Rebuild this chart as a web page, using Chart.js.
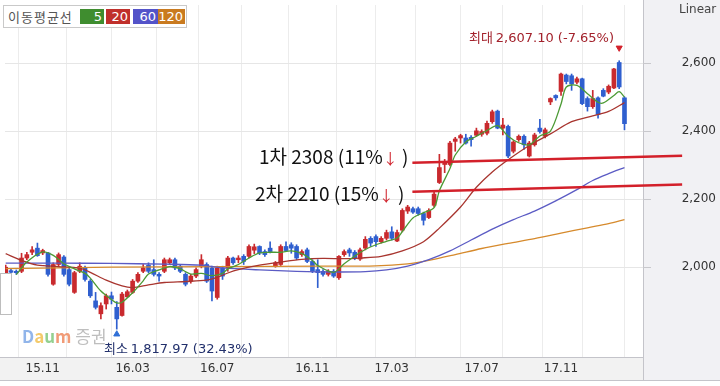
<!DOCTYPE html>
<html>
<head>
<meta charset="utf-8">
<script src="https://cdn.jsdelivr.net/npm/chart.js@4.4.1/dist/chart.umd.min.js"></script>
<style>
  html, body { margin: 0; padding: 0; background: #fff; overflow: hidden; }
  #wrap { position: relative; width: 720px; height: 386px; }
  canvas { position: absolute; left: 0; top: 0; }
  .txt { position: absolute; white-space: nowrap; font-family: "Noto Sans CJK KR", "DejaVu Sans", sans-serif; }
  .num { font-family: "DejaVu Sans", "Noto Sans CJK KR", sans-serif; }
  .arrow { color: #d0202a; font-size: 15px; }
  #maBox { position: absolute; left: 3px; top: 5px; width: 182px; height: 21px; border: 1px solid #c9c9c9; background: #fff; }
  .maKey { position: absolute; top: 3px; height: 15px; line-height: 15px; color: #fff; text-align: right; font: 13px "DejaVu Sans", sans-serif; padding-right: 2px; box-sizing: border-box; }
</style>
</head>
<body>
<div id="wrap">
  <canvas id="kospiChart" width="720" height="386"></canvas>

  <div id="maBox">
    <div class="txt" style="left:4px;top:1px;font-size:13px;color:#555;letter-spacing:1px;">이동평균선</div>
    <div class="maKey" style="left:76px;width:24px;background:#3f8d2f;">5</div>
    <div class="maKey" style="left:102px;width:24px;background:#c0302b;">20</div>
    <div class="maKey" style="left:129px;width:25px;background:#5353c9;">60</div>
    <div class="maKey" style="left:154px;width:27px;background:#c97a1f;">120</div>
  </div>

  <div class="txt num" style="left:679px;top:2px;font-size:12px;color:#444;">Linear</div>

  <div class="txt" style="left:469px;top:27px;font-size:13px;color:#a3222c;">최대 <span class="num">2,607.10 (-7.65%)</span></div>
  <div class="txt" style="left:104px;top:338px;font-size:13px;color:#22306c;">최소 <span class="num">1,817.97 (32.43%)</span></div>

  <div class="txt" style="left:259px;top:142px;font-size:19px;color:#111;">1차 2308 (11%<span class="arrow">↓</span> )</div>
  <div class="txt" style="left:255px;top:179px;font-size:19px;color:#111;">2차 2210 (15%<span class="arrow">↓</span> )</div>

  <div class="txt" style="left:22px;top:323px;font-size:17px;font-weight:bold;opacity:0.75;">
    <span style="color:#6d9de3;">D</span><span style="color:#f0b93a;">a</span><span style="color:#6fc06a;">u</span><span style="color:#ec7a4a;">m</span>
    <span style="color:#a8a8a8;font-weight:normal;">증권</span>
  </div>

  <div style="position:absolute;left:0;top:273px;width:10px;height:40px;border:1px solid #bdbdbd;background:#fff;"></div>
</div>

<script>
// weekly candles, index 0 = leftmost candle
const openArr = [
  1982, 1990, 1988, 1988, 2027, 2044, 2056, 2042, 2042, 1950,
  2008, 2030, 1993, 1926, 1988, 1998, 1959, 1901, 1863, 1892,
  1916, 1882, 1858, 1913, 1926, 1959, 1988, 2006, 1993, 1979,
  1988, 2013, 2022, 2003, 1979, 1959, 1974, 2003, 2008, 1998,
  1911, 1998, 1998, 2027, 2022, 2032, 2032, 2050, 2061, 2046,
  2056, 2003, 2008, 2061, 2066, 2061, 2037, 2051, 2017, 1993,
  1988, 1979, 1988, 1969, 2037, 2051, 2044, 2024, 2056, 2085,
  2090, 2075, 2085, 2104, 2077, 2109, 2165, 2172, 2172, 2158,
  2146, 2182, 2249, 2302, 2302, 2370, 2380, 2380, 2382, 2388,
  2391, 2394, 2428, 2459, 2409, 2414, 2341, 2375, 2385, 2327,
  2360, 2409, 2385, 2486, 2505, 2517, 2565, 2563, 2544, 2554,
  2496, 2472, 2498, 2520, 2515, 2527, 2602, 2498
];
const highArr = [
  2006, 1995, 1992, 2041, 2044, 2061, 2071, 2053, 2044, 2013,
  2042, 2034, 1998, 1988, 2013, 2003, 1964, 1926, 1895, 1921,
  1927, 1899, 1926, 1933, 1964, 1984, 2008, 2013, 2022, 1984,
  2027, 2027, 2027, 2008, 1984, 1979, 1998, 2037, 2013, 2003,
  2003, 2003, 2032, 2030, 2034, 2037, 2066, 2068, 2063, 2051,
  2075, 2017, 2066, 2075, 2072, 2066, 2051, 2056, 2022, 2022,
  1993, 1993, 1993, 2034, 2051, 2056, 2049, 2056, 2090, 2090,
  2095, 2090, 2109, 2119, 2109, 2172, 2182, 2177, 2177, 2162,
  2172, 2220, 2332, 2317, 2370, 2382, 2391, 2391, 2387, 2409,
  2404, 2430, 2462, 2462, 2438, 2418, 2372, 2389, 2389, 2370,
  2394, 2435, 2409, 2498, 2507, 2571, 2568, 2568, 2559, 2556,
  2501, 2520, 2501, 2525, 2536, 2585, 2607.1, 2501
];
const lowArr = [
  1978, 1980, 1979, 1984, 2022, 2037, 2032, 2037, 1974, 1947,
  2003, 1974, 1945, 1923, 1984, 1959, 1911, 1877, 1848, 1877,
  1892, 1817.97, 1856, 1911, 1923, 1955, 1984, 1984, 1974, 1959,
  1984, 2008, 1993, 1984, 1945, 1953, 1969, 1998, 1955, 1901,
  1906, 1964, 1988, 2008, 2013, 2008, 2027, 2040, 2037, 2032,
  2042, 2000, 2005, 2046, 2041, 2022, 2032, 2013, 1984, 1940,
  1974, 1974, 1970, 1964, 2032, 2032, 2022, 2020, 2051, 2061,
  2061, 2071, 2080, 2080, 2075, 2104, 2158, 2158, 2153, 2124,
  2143, 2177, 2246, 2278, 2298, 2341, 2365, 2362, 2356, 2385,
  2385, 2389, 2423, 2407, 2389, 2322, 2336, 2370, 2346, 2324,
  2356, 2394, 2380, 2478, 2491, 2505, 2539, 2520, 2539, 2478,
  2459, 2467, 2438, 2501, 2510, 2525, 2525, 2404
];
const closeArr = [
  2000, 1985, 1984, 2027, 2037, 2051, 2034, 2049, 1979, 2008,
  2037, 1979, 1950, 1984, 2003, 1964, 1916, 1882, 1887, 1916,
  1906, 1848, 1921, 1928, 1959, 1979, 1998, 1988, 1979, 1974,
  2022, 2022, 1998, 1988, 1950, 1974, 1993, 2022, 1959, 1930,
  1998, 1974, 2027, 2013, 2027, 2017, 2061, 2060, 2042, 2037,
  2046, 2013, 2061, 2049, 2056, 2027, 2046, 2017, 1988, 1984,
  1979, 1988, 1974, 2032, 2046, 2042, 2027, 2051, 2082, 2071,
  2075, 2085, 2102, 2085, 2102, 2167, 2177, 2162, 2158, 2138,
  2167, 2215, 2293, 2307, 2365, 2377, 2387, 2365, 2375, 2401,
  2399, 2423, 2457, 2409, 2418, 2327, 2368, 2385, 2360, 2365,
  2389, 2399, 2404, 2496, 2498, 2568, 2546, 2539, 2554, 2481,
  2472, 2496, 2449, 2503, 2532, 2583, 2530, 2422
];

// moving averages as [candle index, value]
const ma5 = [
  [2, 1978], [4, 2015], [7, 2045], [9, 2035], [11, 2010], [13, 1995], [15, 1982],
  [16, 1968], [18, 1930], [20, 1905], [21, 1895], [22, 1897], [24, 1925], [26, 1960],
  [27, 1980], [29, 1992], [31, 2002], [33, 1995], [35, 1980], [37, 1982], [39, 1975],
  [41, 1982], [42, 1995], [44, 2008], [46, 2027], [48, 2042], [50, 2044], [52, 2044],
  [54, 2048], [56, 2040], [58, 2020], [59, 2005], [62, 1985], [64, 2010], [66, 2033],
  [68, 2052], [70, 2066], [72, 2076], [74, 2086], [75, 2105], [77, 2145], [79, 2160],
  [81, 2175], [82, 2225], [84, 2290], [85, 2330], [87, 2368], [89, 2385], [91, 2402],
  [93, 2416], [95, 2385], [97, 2366], [99, 2360], [101, 2386], [103, 2400], [105, 2480],
  [106, 2530], [108, 2535], [110, 2510], [112, 2485], [113, 2483], [115, 2505],
  [116, 2516], [117, 2500]
];
const ma20 = [
  [0, 2040], [3, 2020], [6, 2006], [10, 2002], [14, 1997], [16, 1985], [19, 1962],
  [22, 1945], [24, 1940], [27, 1948], [30, 1955], [34, 1958], [38, 1962], [40, 1970],
  [42, 1983], [44, 1993], [48, 2006], [52, 2015], [56, 2023], [60, 2026], [64, 2025],
  [67, 2027], [71, 2032], [75, 2048], [79, 2075], [82, 2115], [86, 2177], [89, 2235],
  [92, 2280], [95, 2316], [99, 2358], [103, 2392], [107, 2428], [111, 2445],
  [114, 2458], [117, 2484]
];
const ma60 = [
  [0, 2012], [10, 2012], [20, 2011], [30, 2009], [37, 2006], [41, 1998], [48, 1992],
  [55, 1988], [62, 1986], [68, 1987], [72, 1992], [76, 2003], [80, 2022], [84, 2048],
  [88, 2080], [92, 2112], [96, 2140], [100, 2165], [104, 2195], [108, 2228],
  [111, 2255], [114, 2275], [117, 2293]
];
const ma120 = [
  [0, 1996], [20, 2000], [40, 2002], [60, 2003], [70, 2004], [76, 2010], [80, 2020],
  [85, 2037], [90, 2055], [95, 2070], [100, 2084], [105, 2100], [110, 2116],
  [114, 2128], [117, 2140]
];

// support lines (start / end), the far end runs into the price axis
const support1 = [[76.9, 2307], [127.9, 2328]];
const support2 = [[76.9, 2222], [127.9, 2243]];

// month grid lines and which of them carry a label
const monthTicks = [
  [7, '15.11'], [16, '16.01'], [24, '16.03'], [33, '16.05'], [40, '16.07'], [49, '16.09'],
  [58, '16.11'], [67, '17.01'], [73, '17.03'], [82, '17.05'], [90, '17.07'], [98, '17.09'],
  [105, '17.11'], [113, '18.01']
];
const shownLabels = ['15.11', '16.03', '16.07', '16.11', '17.03', '17.07', '17.11'];
const priceTicks = [2000, 2200, 2400, 2600];

const maxIdx = 116;
const minIdx = 21;

const UP = '#c92a2e';
const DOWN = '#2f5fcf';

const candleColors = openArr.map((o, i) => (closeArr[i] >= o ? UP : DOWN));
const wicks = openArr.map((o, i) => ({ x: i, y: [lowArr[i], highArr[i]] }));
const bodies = openArr.map((o, i) => ({ x: i, y: [o, closeArr[i]] }));
const toPts = arr => arr.map(p => ({ x: p[0], y: p[1] }));

const backdrop = {
  id: 'backdrop',
  beforeDraw(chart) {
    const { ctx, chartArea, width } = chart;
    const stripBottom = chartArea.bottom + 23;
    ctx.save();
    ctx.fillStyle = '#ffffff';
    ctx.fillRect(0, 0, width, chart.height);
    ctx.fillStyle = '#f1f1f4';
    ctx.fillRect(chartArea.right, 0, width - chartArea.right, stripBottom);
    ctx.fillStyle = '#f2f2f2';
    ctx.fillRect(0, chartArea.bottom, chartArea.right, 23);
    ctx.strokeStyle = '#c4c4ca';
    ctx.lineWidth = 1;
    ctx.beginPath();
    ctx.moveTo(0, chartArea.bottom + 0.5);
    ctx.lineTo(chartArea.right, chartArea.bottom + 0.5);
    ctx.moveTo(0, stripBottom + 0.5);
    ctx.lineTo(width, stripBottom + 0.5);
    ctx.moveTo(chartArea.right + 0.5, 0);
    ctx.lineTo(chartArea.right + 0.5, stripBottom);
    ctx.stroke();
    ctx.restore();
  }
};

// drop the label padding chart.js reserves at the axis ends
const noPad = scale => {
  scale.paddingTop = 0;
  scale.paddingBottom = 0;
  scale.paddingLeft = 0;
  scale.paddingRight = 0;
};

const ctx = document.getElementById('kospiChart').getContext('2d');
new Chart(ctx, {
  type: 'bar',
  data: {
    datasets: [
      {
        type: 'line', data: toPts(support1), borderColor: '#d3202a', borderWidth: 2.5,
        pointRadius: 0, clip: false, order: -2
      },
      {
        type: 'line', data: toPts(support2), borderColor: '#d3202a', borderWidth: 2.5,
        pointRadius: 0, clip: false, order: -2
      },
      {
        type: 'line', data: [{ x: maxIdx, y: 2645 }], showLine: false, pointStyle: 'triangle',
        rotation: 180, pointRadius: 3.5, backgroundColor: '#d3202a', borderColor: '#d3202a', order: -1
      },
      {
        type: 'line', data: [{ x: minIdx, y: 1803 }], showLine: false, pointStyle: 'triangle',
        pointRadius: 3.5, backgroundColor: '#2f6fd6', borderColor: '#2f6fd6', order: -1
      },
      {
        type: 'line', data: toPts(ma5), borderColor: '#4b9a34', borderWidth: 1.3,
        pointRadius: 0, tension: 0.3, order: 0
      },
      {
        type: 'line', data: toPts(ma20), borderColor: '#a8352f', borderWidth: 1.3,
        pointRadius: 0, tension: 0.3, order: 0
      },
      {
        type: 'line', data: toPts(ma60), borderColor: '#5b5bc4', borderWidth: 1.3,
        pointRadius: 0, tension: 0.3, order: 0
      },
      {
        type: 'line', data: toPts(ma120), borderColor: '#d68a2c', borderWidth: 1.3,
        pointRadius: 0, tension: 0.3, order: 0
      },
      {
        data: bodies, backgroundColor: candleColors, barThickness: 4, minBarLength: 1,
        grouped: false, order: 1
      },
      {
        data: wicks, backgroundColor: candleColors, barThickness: 1, minBarLength: 1,
        grouped: false, order: 2
      }
    ]
  },
  options: {
    responsive: false,
    animation: false,
    events: [],
    layout: { padding: { left: 0, top: 0, right: 4, bottom: 6 } },
    plugins: { legend: { display: false }, tooltip: { enabled: false } },
    scales: {
      x: {
        type: 'linear',
        position: 'bottom',
        min: -0.13,
        max: 120.5,
        offset: false,
        afterBuildTicks: scale => { scale.ticks = monthTicks.map(t => ({ value: t[0] })); },
        afterFit: scale => { scale.height = 23; noPad(scale); },
        grid: { color: '#ececec', drawTicks: false },
        border: { display: false },
        ticks: {
          autoSkip: false,
          maxRotation: 0,
          padding: 5,
          color: '#333',
          font: { family: 'DejaVu Sans', size: 12 },
          callback: value => {
            const m = monthTicks.find(t => t[0] === value);
            return m && shownLabels.includes(m[1]) ? m[1] : '';
          }
        }
      },
      y: {
        position: 'right',
        min: 1736,
        max: 2771,
        afterBuildTicks: scale => { scale.ticks = priceTicks.map(v => ({ value: v })); },
        afterFit: scale => { scale.width = 73; noPad(scale); },
        grid: { color: '#e6e6e6', tickLength: 8, tickColor: '#c8c8cc' },
        border: { display: false },
        ticks: {
          crossAlign: 'far',
          color: '#333',
          font: { family: 'DejaVu Sans', size: 12 },
          callback: value => value.toLocaleString('en-US')
        }
      }
    }
  },
  plugins: [backdrop]
});
</script>
</body>
</html>
